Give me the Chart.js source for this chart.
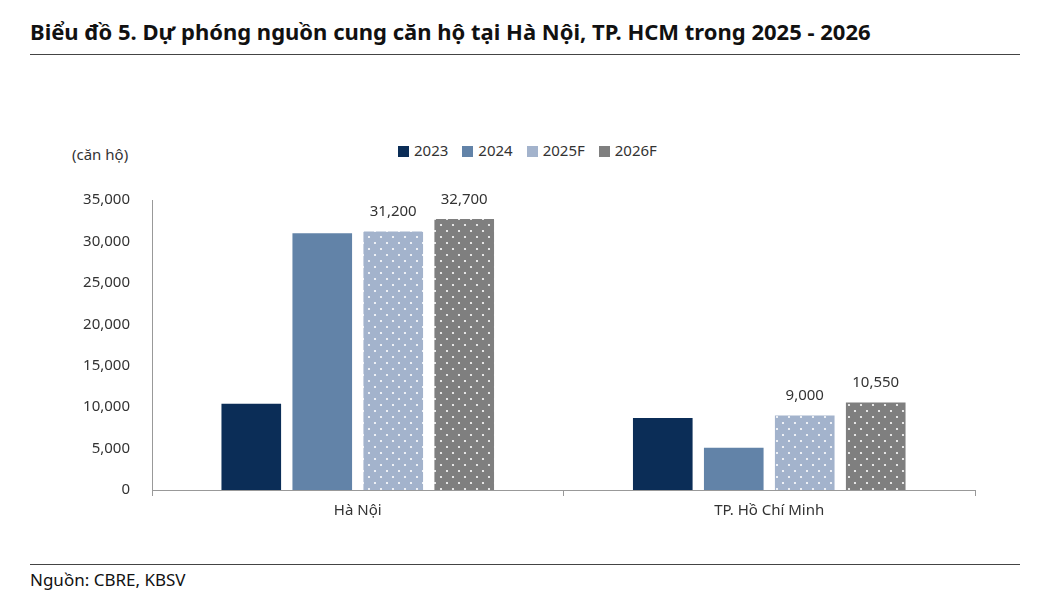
<!DOCTYPE html>
<html><head><meta charset="utf-8">
<script src="https://cdn.jsdelivr.net/npm/chart.js@4"></script>
<style>
body{margin:0;width:1043px;height:596px;background:#fff;font-family:"Noto Sans",sans-serif;position:relative;overflow:hidden}
#title{position:absolute;left:30px;top:16px;font-size:22px;font-weight:bold;color:#111}
.hr{position:absolute;left:30px;width:990px;height:1px;background:#444}
#src{position:absolute;left:30px;top:568px;font-size:17px;color:#111}
#unit{position:absolute;left:72px;top:144px;font-size:15px;color:#333}
#legend{position:absolute;top:140px;left:398px;font-size:15px;color:#333;display:flex;gap:14px}
#legend span i{display:inline-block;width:11px;height:11px;margin-right:5px;vertical-align:-1px}
#wrap{position:absolute;left:0;top:0;width:1043px;height:596px}
</style></head><body>
<div id="title">Biểu đồ 5. Dự phóng nguồn cung căn hộ tại Hà Nội, TP. HCM trong 2025 - 2026</div>
<div class="hr" style="top:54px"></div>
<div class="hr" style="top:564px"></div>
<div id="src">Nguồn: CBRE, KBSV</div>
<div id="unit">(căn hộ)</div>
<div id="legend"></div>
<div id="wrap"><canvas id="c" width="1043" height="596"></canvas></div>
<script>
const categories=["Hà Nội","TP. Hồ Chí Minh"];
const seriesNames=["2023","2024","2025F","2026F"];
const v2023=[10400,8700];
const v2024=[31000,5100];
const v2025F=[31200,9000];
const v2026F=[32700,10550];
const labeled=[false,false,true,true];
const colors=["#0b2d57","#6283a8","#a3b3cc","#7f7f7f"];

function dots(base){
  const p=document.createElement('canvas');p.width=12;p.height=12;
  const g=p.getContext('2d');g.fillStyle=base;g.fillRect(0,0,12,12);
  g.fillStyle='#fff';
  g.beginPath();g.arc(3,3,1.1,0,7);g.fill();
  g.beginPath();g.arc(9,9,1.1,0,7);g.fill();
  return document.getElementById('c').getContext('2d').createPattern(p,'repeat');
}
const fills=[colors[0],colors[1],dots(colors[2]),dots(colors[3])];
document.getElementById('legend').innerHTML=seriesNames.map((n,i)=>`<span><i style="background:${colors[i]}"></i>${n}</span>`).join('');

const labelPlugin={id:'lbl',afterDatasetsDraw(ch){
  const ctx=ch.ctx;ctx.save();ctx.font='15px "Noto Sans"';ctx.fillStyle='#333';ctx.textAlign='center';ctx.textBaseline='bottom';
  ch.data.datasets.forEach((d,i)=>{if(!labeled[i])return;
    ch.getDatasetMeta(i).data.forEach((b,j)=>{ctx.fillText(d.data[j].toLocaleString('en-US'),b.x,b.y-12);});});
  ctx.restore();}};

new Chart(document.getElementById('c'),{type:'bar',
 data:{labels:categories,datasets:[v2023,v2024,v2025F,v2026F].map((d,i)=>({label:seriesNames[i],data:d,backgroundColor:fills[i],categoryPercentage:0.69,barPercentage:0.84}))},
 options:{responsive:false,animation:false,
  layout:{padding:{top:200,right:68,left:0,bottom:0}},
  plugins:{legend:{display:false},tooltip:{enabled:false}},
  scales:{
   x:{grid:{display:true,offset:true,drawOnChartArea:false,tickLength:6,color:'#999'},border:{color:'#999'},
      ticks:{color:'#333',font:{size:15,family:'Noto Sans'},padding:6},
      afterFit(s){s.height=106;}},
   y:{min:0,max:35000,grid:{display:false},border:{color:'#999'},
      ticks:{stepSize:5000,color:'#333',font:{size:15,family:'Noto Sans'},padding:14,callback:v=>v.toLocaleString('en-US')},
      afterFit(s){s.width=152;}}
  }},
 plugins:[labelPlugin]});
</script></body></html>
